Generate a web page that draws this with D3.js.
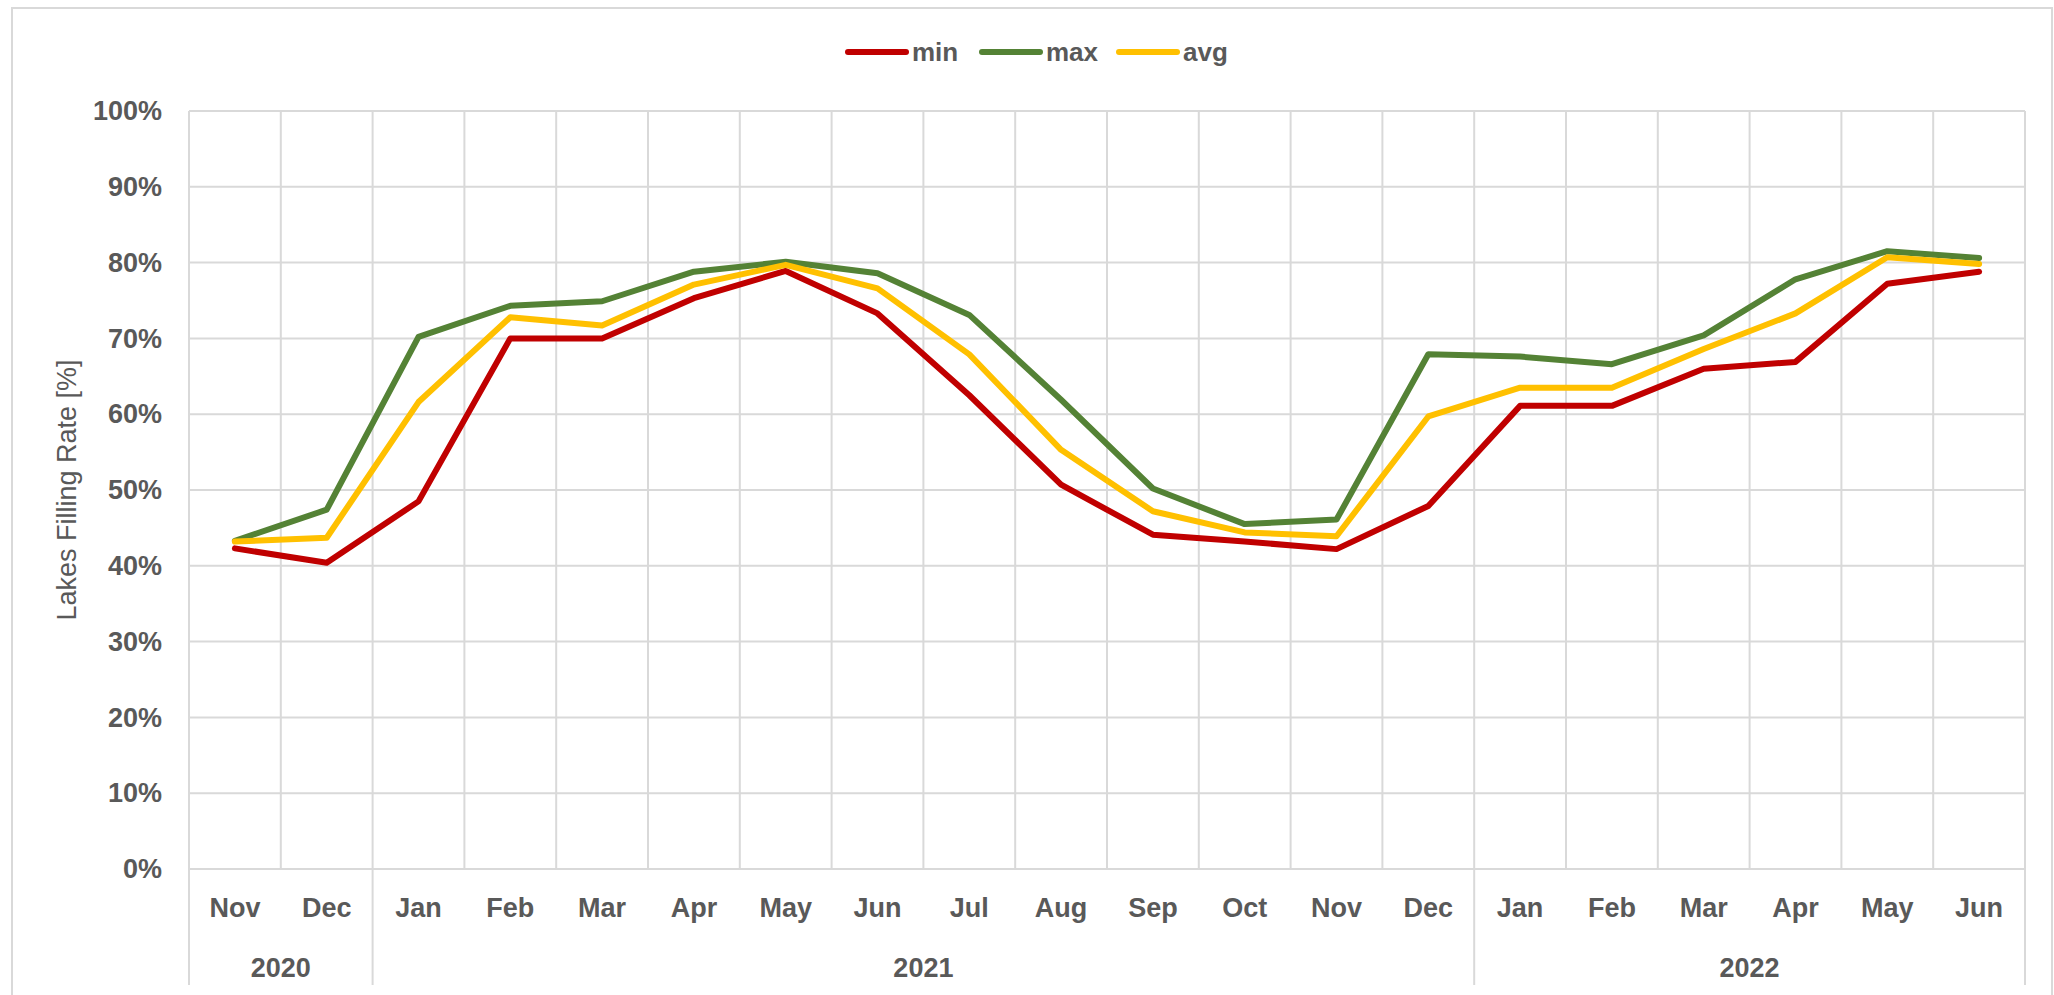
<!DOCTYPE html>
<html>
<head>
<meta charset="utf-8">
<script src="https://cdn.jsdelivr.net/npm/d3@7"></script>
<style>
  html, body { margin: 0; padding: 0; background: #fff; }
  svg { display: block; font-family: "Liberation Sans", Arial, sans-serif; }
</style>
</head>
<body>
<div id="chart"></div>
<script>
const months = ['Nov', 'Dec', 'Jan', 'Feb', 'Mar', 'Apr', 'May', 'Jun', 'Jul', 'Aug', 'Sep', 'Oct',
  'Nov', 'Dec', 'Jan', 'Feb', 'Mar', 'Apr', 'May', 'Jun'];
const years = ['2020', '2021', '2022'];
const yearSpans = [2, 12, 6];

const minVals = [42.3, 40.4, 48.5, 70.0, 70.0, 75.3, 78.9, 73.3, 62.5, 50.7, 44.1, 43.2,
  42.2, 47.9, 61.1, 61.1, 66.0, 66.9, 77.2, 78.8];
const maxVals = [43.3, 47.4, 70.2, 74.3, 74.9, 78.8, 80.1, 78.6, 73.1, 61.9, 50.2, 45.5,
  46.1, 67.9, 67.6, 66.6, 70.4, 77.8, 81.5, 80.6];
const avgVals = [43.2, 43.7, 61.6, 72.8, 71.7, 77.1, 79.7, 76.6, 67.9, 55.3, 47.2, 44.4,
  43.9, 59.7, 63.5, 63.5, 68.6, 73.3, 80.7, 79.8];

const seriesNames = ['min', 'max', 'avg'];
const seriesColors = ['#C00000', '#548235', '#FFC000'];
const yTicks = [0, 10, 20, 30, 40, 50, 60, 70, 80, 90, 100];

const width = 2054, height = 995;
const plot = { left: 189, right: 2025, top: 111, bottom: 869 };
const grid = '#D9D9D9';
const textColor = '#595959';

const svg = d3.select('#chart')
  .append('svg')
    .attr('width', width)
    .attr('height', height);

// chart border
svg.append('rect')
  .attr('x', 12).attr('y', 8)
  .attr('width', 2040).attr('height', 1000)
  .attr('fill', 'none')
  .attr('stroke', grid)
  .attr('stroke-width', 2);

const x = d3.scaleBand()
  .domain(d3.range(months.length))
  .range([plot.left, plot.right]);

const y = d3.scaleLinear()
  .domain([0, 100])
  .range([plot.bottom, plot.top]);

// horizontal gridlines
svg.append('g')
  .selectAll('line')
  .data(yTicks)
  .enter().append('line')
    .attr('x1', plot.left)
    .attr('x2', plot.right)
    .attr('y1', d => y(d))
    .attr('y2', d => y(d))
    .attr('stroke', grid)
    .attr('stroke-width', 2);

// vertical gridlines between categories; year boundaries run down through the labels
const yearEnds = d3.cumsum(yearSpans);
const boundaries = d3.range(months.length + 1);
const bx = i => (i < months.length ? x(i) : plot.right);
svg.append('g')
  .selectAll('line')
  .data(boundaries)
  .enter().append('line')
    .attr('x1', bx)
    .attr('x2', bx)
    .attr('y1', plot.top)
    .attr('y2', i => (i === 0 || yearEnds.includes(i) ? 985 : plot.bottom))
    .attr('stroke', grid)
    .attr('stroke-width', 2);

// y axis labels
const yAxis = d3.axisLeft(y)
  .tickValues(yTicks)
  .tickFormat(d => d + '%')
  .tickSize(0)
  .tickPadding(27);

const yg = svg.append('g')
  .attr('transform', `translate(${plot.left},0)`)
  .call(yAxis);
yg.select('.domain').remove();
yg.selectAll('text')
  .attr('fill', textColor)
  .attr('font-size', 27)
  .attr('font-weight', 'bold')
  .attr('font-family', '"Liberation Sans", Arial, sans-serif');

// axis title
svg.append('text')
  .attr('transform', `translate(76,${(plot.top + plot.bottom) / 2}) rotate(-90)`)
  .attr('text-anchor', 'middle')
  .attr('fill', textColor)
  .attr('font-size', 27)
  .text('Lakes Filling Rate [%]');

// month labels
const xAxis = d3.axisBottom(x)
  .tickFormat(i => months[i])
  .tickSize(0)
  .tickPadding(29);

const xg = svg.append('g')
  .attr('transform', `translate(0,${plot.bottom})`)
  .call(xAxis);
xg.select('.domain').remove();
xg.selectAll('text')
  .attr('fill', textColor)
  .attr('font-size', 27)
  .attr('font-weight', 'bold')
  .attr('font-family', '"Liberation Sans", Arial, sans-serif');

// year labels
const yearStarts = yearEnds.map((e, i) => e - yearSpans[i]);
svg.append('g')
  .selectAll('text')
  .data(years)
  .enter().append('text')
    .attr('x', (d, i) => (bx(yearStarts[i]) + bx(yearEnds[i])) / 2)
    .attr('y', 977)
    .attr('text-anchor', 'middle')
    .attr('fill', textColor)
    .attr('font-size', 27)
    .attr('font-weight', 'bold')
    .text(d => d);

// series lines
const line = d3.line()
  .x((d, i) => x(i) + x.bandwidth() / 2)
  .y(d => y(d));

const series = [minVals, maxVals, avgVals];
svg.append('g')
  .selectAll('path')
  .data(series)
  .enter().append('path')
    .attr('d', line)
    .attr('fill', 'none')
    .attr('stroke', (d, i) => seriesColors[i])
    .attr('stroke-width', 6)
    .attr('stroke-linejoin', 'round')
    .attr('stroke-linecap', 'round');

// legend
const legendX = [848, 982, 1119];
const legend = svg.append('g')
  .selectAll('g')
  .data(seriesNames)
  .enter().append('g')
    .attr('transform', (d, i) => `translate(${legendX[i]},52)`);

legend.append('line')
  .attr('x1', 0).attr('x2', 58)
  .attr('stroke', (d, i) => seriesColors[i])
  .attr('stroke-width', 6)
  .attr('stroke-linecap', 'round');

legend.append('text')
  .attr('x', 64)
  .attr('dy', '0.36em')
  .attr('fill', textColor)
  .attr('font-size', 26)
  .attr('font-weight', 'bold')
  .text(d => d);
</script>
</body>
</html>
